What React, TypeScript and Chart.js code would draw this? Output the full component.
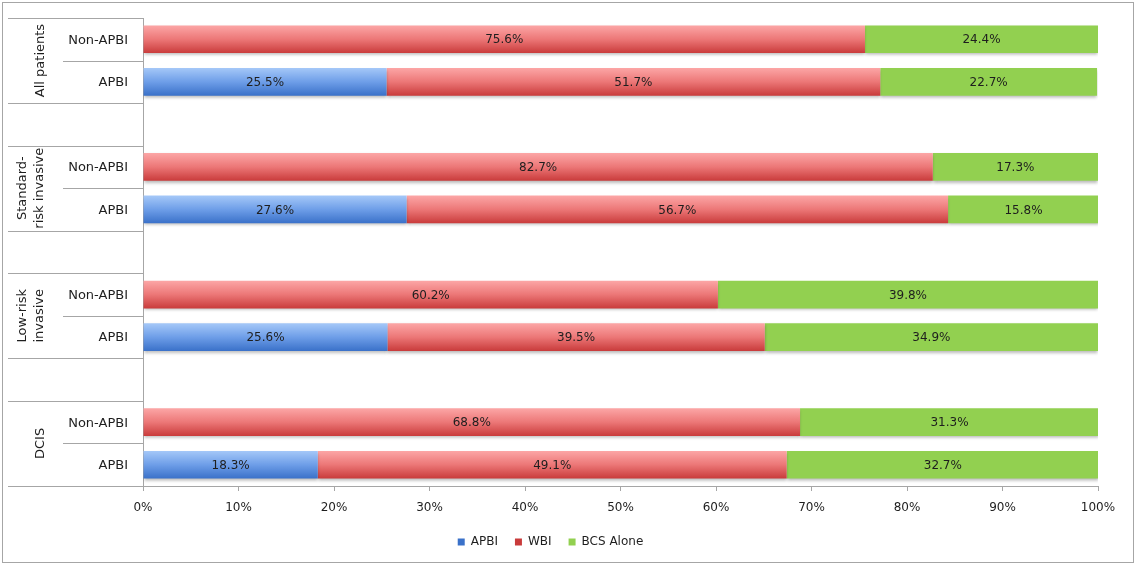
import React, { useEffect, useRef } from 'react';
import { Chart, registerables } from 'chart.js';

Chart.register(...registerables);

// ---- data ----
const rowLabels = ['Non-APBI', 'APBI', '', 'Non-APBI', 'APBI', '', 'Non-APBI', 'APBI', '', 'Non-APBI', 'APBI'];
const groupLabels = [['All patients'], ['Standard-', 'risk invasive'], ['Low-risk', 'invasive'], ['DCIS']];
const seriesNames = ['APBI', 'WBI', 'BCS Alone'];
const apbiValues = [null, 25.5, null, null, 27.6, null, null, 25.6, null, null, 18.3];
const wbiValues = [75.6, 51.7, null, 82.7, 56.7, null, 60.2, 39.5, null, 68.8, 49.1];
const bcsValues = [24.4, 22.7, null, 17.3, 15.8, null, 39.8, 34.9, null, 31.3, 32.7];

const FONT = '"DejaVu Sans", Verdana, sans-serif';
const TEXT = '#1e1e1e';
const LINE = '#a6a6a6';
const BAR_PCT = 0.93;
const CAT_PCT = 0.7;
const BAR_FRACTION = BAR_PCT * CAT_PCT;

function gradientFill(stops: string[], flat: string) {
  return (c: any) => {
    const chart = c.chart;
    const ys = chart.scales && chart.scales.y;
    if (c.type !== 'data' || !ys || !chart.chartArea) return flat;
    const yc = ys.getPixelForValue(c.dataIndex);
    const row = Math.abs(ys.getPixelForValue(1) - ys.getPixelForValue(0));
    const half = (row * BAR_FRACTION) / 2;
    const g = chart.ctx.createLinearGradient(0, yc - half, 0, yc + half);
    stops.forEach((s, i) => g.addColorStop(i / (stops.length - 1), s));
    return g;
  };
}

const shadowPlugin = {
  id: 'barShadow',
  beforeDatasetsDraw(chart: any) {
    const ctx = chart.ctx;
    ctx.save();
    ctx.shadowColor = 'rgba(0,0,0,0.28)';
    ctx.shadowBlur = 3;
    ctx.shadowOffsetX = 0;
    ctx.shadowOffsetY = 2;
  },
  afterDatasetsDraw(chart: any) {
    chart.ctx.restore();
  },
};

const valueLabelPlugin = {
  id: 'valueLabels',
  afterDatasetsDraw(chart: any) {
    const ctx = chart.ctx;
    ctx.save();
    ctx.font = `12px ${FONT}`;
    ctx.fillStyle = TEXT;
    ctx.textAlign = 'center';
    ctx.textBaseline = 'middle';
    chart.data.datasets.forEach((ds: any, d: number) => {
      const meta = chart.getDatasetMeta(d);
      meta.data.forEach((el: any, i: number) => {
        const v = ds.data[i];
        if (v === null || v === undefined) return;
        const p = el.getCenterPoint();
        ctx.fillText(v.toFixed(1) + '%', p.x, p.y + 1);
      });
    });
    ctx.restore();
  },
};

const labelAreaPlugin = {
  id: 'labelArea',
  afterDraw(chart: any) {
    const { ctx, chartArea } = chart;
    const y = chart.scales.y;
    const row = y.getPixelForValue(1) - y.getPixelForValue(0);
    const right = chartArea.left;
    const hline = (yy: number, x0: number) => {
      const py = Math.round(yy) + 0.5;
      ctx.beginPath();
      ctx.moveTo(x0, py);
      ctx.lineTo(right, py);
      ctx.stroke();
    };
    ctx.save();
    ctx.strokeStyle = LINE;
    ctx.lineWidth = 1;
    groupLabels.forEach((lines, g) => {
      const top = y.getPixelForValue(g * 3) - row / 2;
      const bottom = y.getPixelForValue(g * 3 + 1) + row / 2;
      const mid = (top + bottom) / 2;
      hline(top, 5);
      hline(bottom, 5);
      hline(mid, 60);
      const xs = lines.length === 1 ? [38] : [20, 37];
      ctx.fillStyle = TEXT;
      ctx.font = `13px ${FONT}`;
      ctx.textAlign = 'center';
      ctx.textBaseline = 'middle';
      lines.forEach((t, k) => {
        ctx.save();
        ctx.translate(xs[k], mid);
        ctx.rotate(-Math.PI / 2);
        ctx.fillText(t, 0, 0);
        ctx.restore();
      });
    });
    ctx.fillStyle = TEXT;
    ctx.font = `13px ${FONT}`;
    ctx.textAlign = 'right';
    ctx.textBaseline = 'middle';
    rowLabels.forEach((t, i) => {
      if (!t) return;
      ctx.fillText(t, right - 15, y.getPixelForValue(i) + 1);
    });
    ctx.restore();
  },
};

export default function App() {
  const ref = useRef<HTMLCanvasElement | null>(null);
  useEffect(() => {
    if (!ref.current) return;
    const chart = new Chart(ref.current, {
      type: 'bar',
      data: {
        labels: rowLabels,
        datasets: [
          {
            label: seriesNames[0],
            data: apbiValues,
            backgroundColor: gradientFill(['#a5c8f8', '#6e9ee8', '#3a71c9'], '#4f85d6'),
          },
          {
            label: seriesNames[1],
            data: wbiValues,
            backgroundColor: gradientFill(['#fca6a6', '#ec7777', '#c93b3b'], '#de4f4f'),
          },
          {
            label: seriesNames[2],
            data: bcsValues,
            backgroundColor: '#92d050',
          },
        ] as any,
      },
      options: {
        indexAxis: 'y',
        animation: false,
        responsive: false,
        maintainAspectRatio: false,
        barPercentage: BAR_PCT,
        categoryPercentage: CAT_PCT,
        layout: { padding: { left: 0, right: 35, top: 15, bottom: 4 } },
        scales: {
          x: {
            stacked: true,
            min: 0,
            max: 100,
            ticks: {
              stepSize: 10,
              color: TEXT,
              font: { family: FONT, size: 12 },
              padding: 10,
              callback: (v: any) => v + '%',
            },
            grid: { drawOnChartArea: false, drawTicks: true, tickLength: 5, color: LINE },
            border: { display: true, color: LINE, width: 1 },
            afterFit: (s: any) => {
              s.height = 33;
            },
          },
          y: {
            stacked: true,
            ticks: { display: false },
            grid: { display: true, drawOnChartArea: false, drawTicks: false, color: LINE },
            border: { display: true, color: LINE, width: 1 },
            afterFit: (s: any) => {
              s.width = 140;
            },
          },
        },
        plugins: {
          legend: {
            position: 'bottom',
            labels: {
              boxWidth: 7,
              boxHeight: 7,
              padding: 17,
              color: TEXT,
              font: { family: FONT, size: 12 },
            },
          },
          tooltip: { enabled: false },
        },
      } as any,
      plugins: [shadowPlugin, valueLabelPlugin, labelAreaPlugin],
    });
    return () => chart.destroy();
  }, []);
  return (
    <div
      style={{
        position: 'absolute',
        left: 2,
        top: 2,
        width: 1130,
        height: 559,
        border: `1px solid ${LINE}`,
        background: '#ffffff',
      }}
    >
      <canvas ref={ref} width={1130} height={559} style={{ display: 'block' }} />
    </div>
  );
}
